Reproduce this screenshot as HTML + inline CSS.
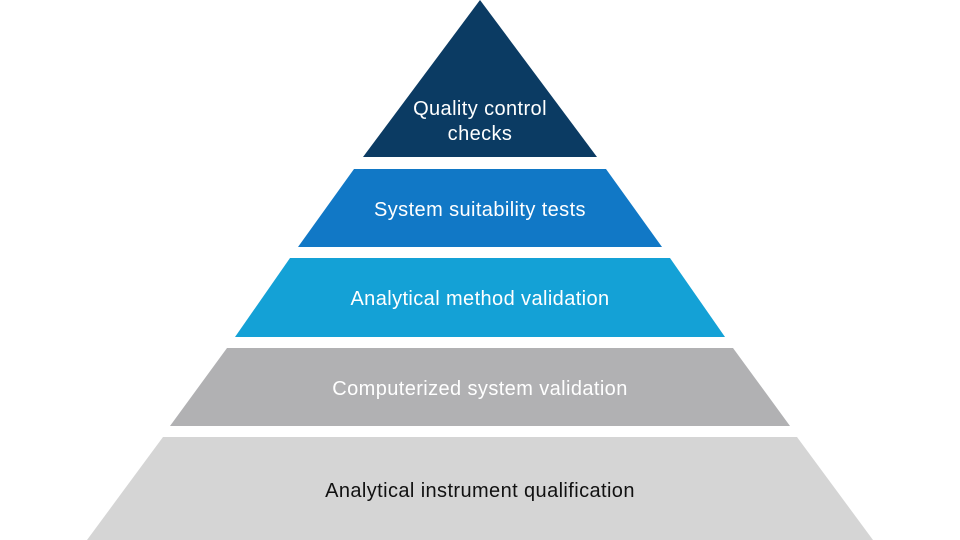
<!DOCTYPE html>
<html><head><meta charset="utf-8"><style>html,body{margin:0;padding:0;background:#fff}svg{display:block}</style></head>
<body>
<svg width="960" height="540" viewBox="0 0 960 540" xmlns="http://www.w3.org/2000/svg" font-family="Liberation Sans, sans-serif" font-size="20" letter-spacing="0.4" text-anchor="middle">
<polygon points="480,0 597,157 363,157" fill="#0b3b63"/>
<polygon points="354,169 606,169 662,247 298,247" fill="#1178c6"/>
<polygon points="290,258 670,258 725,337 235,337" fill="#14a1d6"/>
<polygon points="227,348 733,348 790,426 170,426" fill="#b1b1b3"/>
<polygon points="163,437 797,437 873,540 87,540" fill="#d5d5d5"/>
<g fill="#fff">
<text x="480" y="115">Quality control</text>
<text x="480" y="140">checks</text>
<text x="480" y="216">System suitability tests</text>
<text x="480" y="305">Analytical method validation</text>
<text x="480" y="395">Computerized system validation</text>
</g>
<text x="480" y="497" fill="#111">Analytical instrument qualification</text>
</svg>
</body></html>
